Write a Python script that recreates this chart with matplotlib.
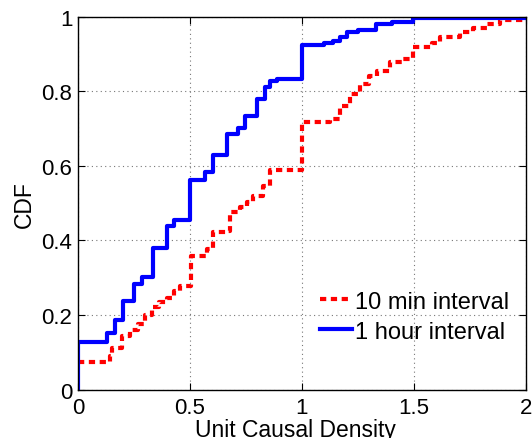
"""CDF of unit causal density for two aggregation intervals -> out.png."""

import matplotlib
matplotlib.use("Agg")
import matplotlib.pyplot as plt

# step CDFs: value jumps to y at each x (post-step)
ten_min_x = [0, 0.143, 0.153, 0.195, 0.233, 0.27, 0.3, 0.329, 0.36, 0.396, 0.43,
             0.455, 0.503, 0.575, 0.604, 0.664, 0.679, 0.723, 0.753, 0.783, 0.827,
             0.857, 1.0, 1.125, 1.17, 1.214, 1.259, 1.30, 1.333, 1.393, 1.452,
             1.497, 1.579, 1.616, 1.705, 1.765, 1.825, 1.884, 2.0]
ten_min_y = [0.073, 0.09, 0.113, 0.145, 0.16, 0.176, 0.2, 0.221, 0.235, 0.247, 0.265,
             0.277, 0.359, 0.377, 0.422, 0.426, 0.475, 0.489, 0.502, 0.52, 0.547,
             0.589, 0.717, 0.725, 0.76, 0.792, 0.819, 0.84, 0.855, 0.877, 0.885,
             0.918, 0.93, 0.944, 0.958, 0.969, 0.98, 0.99, 0.99]

hour_x = [0, 0, 0.128, 0.165, 0.2, 0.25, 0.284, 0.333, 0.396, 0.43, 0.5, 0.567,
          0.601, 0.664, 0.713, 0.746, 0.798, 0.835, 0.857, 0.887, 1.0, 1.10, 1.14,
          1.17, 1.2, 1.25, 1.33, 1.40, 1.497, 2.0]
hour_y = [0, 0.128, 0.152, 0.187, 0.239, 0.282, 0.303, 0.38, 0.438, 0.455, 0.562,
          0.583, 0.63, 0.684, 0.702, 0.733, 0.779, 0.81, 0.828, 0.833, 0.924, 0.928,
          0.935, 0.944, 0.958, 0.965, 0.98, 0.986, 0.996, 1.0]

x_ticks = [0, 0.5, 1, 1.5, 2]
x_tick_labels = ["0", "0.5", "1", "1.5", "2"]
y_ticks = [0, 0.2, 0.4, 0.6, 0.8, 1]
y_tick_labels = ["0", "0.2", "0.4", "0.6", "0.8", "1"]

plt.rcParams["font.family"] = ["Liberation Sans", "DejaVu Sans"]
plt.rcParams["font.size"] = 16


def main():
    fig = plt.figure(figsize=(5.32, 4.39), dpi=100)
    ax = fig.add_axes([0.1466, 0.110, 0.842, 0.850])

    ax.step(ten_min_x, ten_min_y, where="post", color="#ff0000", lw=3,
            dashes=(1.5, 1.1), label="10 min interval")
    ax.step(hour_x, hour_y, where="post", color="#0000ff", lw=3,
            label="1 hour interval")

    ax.set_xlim(0, 2)
    ax.set_ylim(0, 1)
    ax.set_xticks(x_ticks, x_tick_labels)
    ax.set_yticks(y_ticks, y_tick_labels)
    ax.tick_params(direction="in", top=True, right=True, length=5, width=0.8,
                   labelsize=16)
    ax.tick_params(axis="x", pad=5)
    ax.tick_params(axis="y", pad=4)
    ax.grid(True, color="#777777", ls=(0, (1, 3)), lw=0.8)
    for s in ax.spines.values():
        s.set_linewidth(1.0)

    ax.set_xlabel("Unit Causal Density", fontsize=16.5, labelpad=0)
    ax.xaxis.label.set_x(0.4855)
    ax.set_ylabel("CDF", fontsize=16.5, labelpad=4)

    ax.legend(loc="upper left", bbox_to_anchor=(0.514, 0.297), frameon=False,
              borderpad=0, handlelength=1.35, handletextpad=0.11,
              labelspacing=0.34, fontsize=17)

    fig.savefig("out.png", dpi=100)


if __name__ == "__main__":
    main()
